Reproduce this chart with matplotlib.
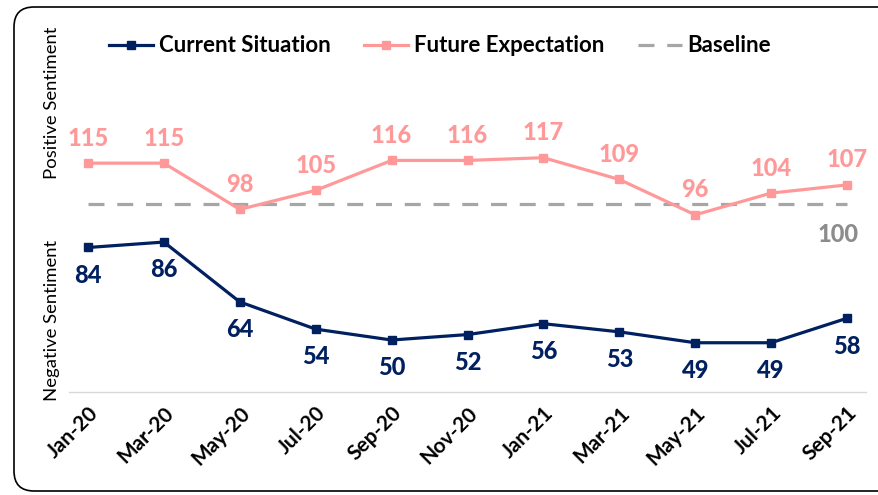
import matplotlib
matplotlib.use("Agg")
import matplotlib.pyplot as plt
from matplotlib.patches import FancyBboxPatch
from matplotlib.transforms import IdentityTransform

months = ["Jan-20", "Mar-20", "May-20", "Jul-20", "Sep-20", "Nov-20",
          "Jan-21", "Mar-21", "May-21", "Jul-21", "Sep-21"]
current = [84, 86, 64, 54, 50, 52, 56, 53, 49, 49, 58]
future = [115, 115, 98, 105, 116, 116, 117, 109, 96, 104, 107]
baseline = [100] * len(months)

NAVY = "#002060"
PINK = "#FF9999"
GRAY = "#A6A6A6"
FONT = "Lato"

plt.rcParams['font.family'] = [FONT, 'DejaVu Sans']

fig = plt.figure(figsize=(8.79, 4.95), dpi=100)
ax = fig.add_axes([69/879, 1-392/495, (866-69)/879, (392-20)/495])

x = list(range(len(months)))
ax.plot(x, baseline, color=GRAY, lw=2.3, dashes=(5, 4), label="Baseline", zorder=2)
ax.plot(x, future, color=PINK, lw=2.3, marker="s", ms=6, label="Future Expectation", zorder=3)
ax.plot(x, current, color=NAVY, lw=2.3, marker="s", ms=6, label="Current Situation", zorder=3)

for xi, v in zip(x, future):
    ax.annotate(str(v), (xi, v), xytext=(0, 18), textcoords="offset points",
                ha="center", va="center", color=PINK, fontsize=17, fontweight="black")
for xi, v in zip(x, current):
    ax.annotate(str(v), (xi, v), xytext=(0, -20), textcoords="offset points",
                ha="center", va="center", color=NAVY, fontsize=17, fontweight="black")
ax.annotate(str(baseline[-1]), (x[-1], baseline[-1]), xytext=(-6.5, -22), textcoords="offset points",
            ha="center", va="center", color="#8C8C8C", fontsize=17, fontweight="black")

ax.set_xlim(-0.25, len(months) - 0.75)
ax.set_ylim(30.9, 167.6)
ax.set_xticks(x)
ax.set_xticklabels(months, rotation=45, ha="right", rotation_mode="anchor",
                   fontsize=15, fontweight="bold")
ax.tick_params(axis="x", length=0, pad=8)
ax.set_yticks([])
for s in ["top", "right", "left"]:
    ax.spines[s].set_visible(False)
ax.spines["bottom"].set_color("#D9D9D9")
ax.spines["bottom"].set_linewidth(1)

fig.text(52/879, 1-103/495, "Positive Sentiment", rotation=90, ha="center", va="center", fontsize=13.3)
fig.text(52/879, 1-320/495, "Negative Sentiment", rotation=90, ha="center", va="center", fontsize=13.3)

handles, labels = ax.get_legend_handles_labels()
order = [2, 1, 0]
leg = fig.legend([handles[i] for i in order], [labels[i] for i in order],
                 loc="center", bbox_to_anchor=(440/879, 1-46/495), ncol=3, frameon=False,
                 prop={"family": FONT, "weight": "bold", "size": 16},
                 handlelength=2.0, handletextpad=0.25, columnspacing=1.5)

border = FancyBboxPatch((14, 4), 950, 484, boxstyle="round,pad=0,rounding_size=20",
                        transform=IdentityTransform(), fill=False, edgecolor="black", lw=1.2)
fig.add_artist(border)

fig.savefig("out.png", dpi=100)
